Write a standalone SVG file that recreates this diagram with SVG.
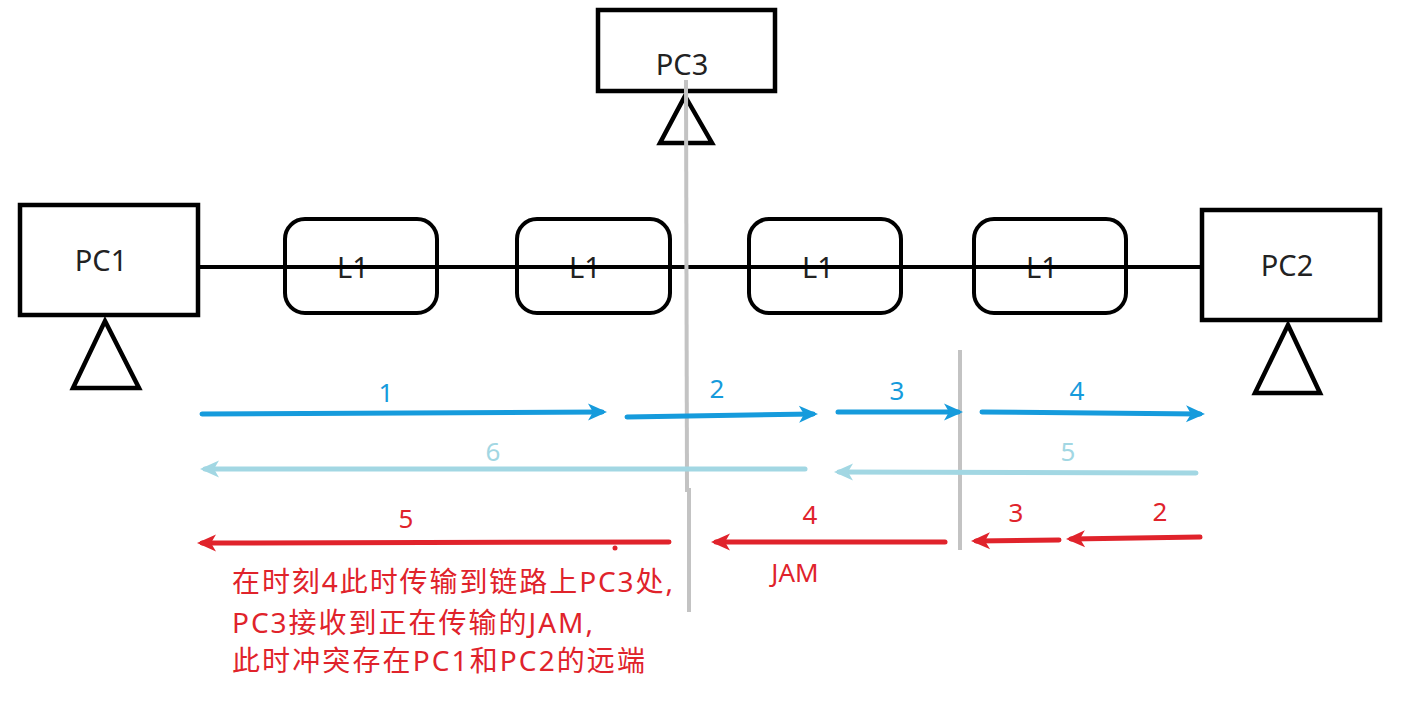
<svg xmlns="http://www.w3.org/2000/svg" width="1411" height="723" viewBox="0 0 1411 723">
<style>
.box{fill:#fff;stroke:#000;stroke-width:4.5}
.lbox{fill:#fff;stroke:#000;stroke-width:4}
.tri{fill:#fff;stroke:#000;stroke-width:4.5;stroke-linejoin:miter}
.name{font-family:"Noto Sans","DejaVu Sans",sans-serif;font-size:29px;fill:#222;text-anchor:middle}
.num{font-family:"Noto Sans","DejaVu Sans",sans-serif;font-size:26px;text-anchor:middle}
.blue{stroke:#169bdc;stroke-width:5;stroke-linecap:round;fill:none}
.lblue{stroke:#a2d7e3;stroke-width:5;stroke-linecap:round;fill:none}
.red{stroke:#e0232b;stroke-width:5;stroke-linecap:round;fill:none}
.grey{stroke:#c3c3c3;stroke-width:4;fill:none}
.cjk{font-family:"Noto Sans","Noto Sans CJK SC",sans-serif;font-size:28px;fill:#e0232b}
</style>
<defs>
<marker id="hb" viewBox="-20 -10 30 20" markerWidth="30" markerHeight="20" refX="0" refY="0" markerUnits="userSpaceOnUse" orient="auto"><path d="M5,0 L-14,-8.5 L-9,0 L-14,8.5 Z" fill="#169bdc"/></marker>
<marker id="hl" viewBox="-20 -10 30 20" markerWidth="30" markerHeight="20" refX="0" refY="0" markerUnits="userSpaceOnUse" orient="auto"><path d="M5,0 L-14,-8.5 L-9,0 L-14,8.5 Z" fill="#a2d7e3"/></marker>
<marker id="hr" viewBox="-20 -10 30 20" markerWidth="30" markerHeight="20" refX="0" refY="0" markerUnits="userSpaceOnUse" orient="auto"><path d="M5,0 L-14,-8.5 L-9,0 L-14,8.5 Z" fill="#e0232b"/></marker>
</defs>
<rect width="1411" height="723" fill="#fff"/>

<g id="PC3">
<rect class="box" x="598" y="10" width="177" height="81"/>
<text class="name" x="682" y="75">PC3</text>
<polygon class="tri" points="685,96 712,143 660,143"/>
</g>
<g id="PC1">
<rect class="box" x="20" y="205" width="178" height="110"/>
<text class="name" x="101" y="271">PC1</text>
<polygon class="tri" points="105,321 139,388 73,388"/>
</g>
<g id="PC2">
<rect class="box" x="1202" y="210" width="178" height="110"/>
<text class="name" x="1287" y="276">PC2</text>
<polygon class="tri" points="1288,325 1320,393 1255,393"/>
</g>
<g id="L1a">
<rect class="lbox" x="285" y="219" width="152" height="94" rx="20"/>
<text class="name" x="353" y="278">L1</text>
</g>
<g id="L1b">
<rect class="lbox" x="517" y="219" width="153" height="94" rx="20"/>
<text class="name" x="585" y="278">L1</text>
</g>
<g id="L1c">
<rect class="lbox" x="749" y="219" width="152" height="94" rx="20"/>
<text class="name" x="818" y="278">L1</text>
</g>
<g id="L1d">
<rect class="lbox" x="974" y="219" width="152" height="94" rx="20"/>
<text class="name" x="1042" y="278">L1</text>
</g>

<g id="connectors">
<line x1="198" y1="267" x2="1202" y2="267" stroke="#000" stroke-width="4"/>
<line class="grey" x1="686" y1="80" x2="687" y2="492"/>
<line class="grey" x1="689" y1="488" x2="689" y2="612"/>
<line class="grey" x1="960" y1="350" x2="960" y2="550"/>

<line class="blue" x1="202" y1="414" x2="602" y2="412" marker-end="url(#hb)"/>
<line class="blue" x1="627" y1="417" x2="813" y2="414" marker-end="url(#hb)"/>
<line class="blue" x1="838" y1="412" x2="958" y2="412" marker-end="url(#hb)"/>
<line class="blue" x1="982" y1="412" x2="1200" y2="414" marker-end="url(#hb)"/>

<line class="lblue" x1="805" y1="469" x2="205" y2="469" marker-end="url(#hl)"/>
<line class="lblue" x1="1196" y1="473" x2="839" y2="472" marker-end="url(#hl)"/>

<line class="red" x1="669" y1="542" x2="202" y2="543" marker-end="url(#hr)"/>
<line class="red" x1="945" y1="542" x2="716" y2="542" marker-end="url(#hr)"/>
<line class="red" x1="1059" y1="540" x2="976" y2="541" marker-end="url(#hr)"/>
<line class="red" x1="1200" y1="537" x2="1071" y2="539" marker-end="url(#hr)"/>
<circle cx="615" cy="548" r="2.5" fill="#e0232b"/>
</g>

<g id="labels">
<text class="num" x="386" y="402" fill="#169bdc">1</text>
<text class="num" x="717" y="398" fill="#169bdc">2</text>
<text class="num" x="897" y="400" fill="#169bdc">3</text>
<text class="num" x="1077" y="400" fill="#169bdc">4</text>
<text class="num" x="493" y="461" fill="#a2d7e3">6</text>
<text class="num" x="1068" y="461" fill="#a2d7e3">5</text>
<text class="num" x="406" y="528" fill="#e0232b">5</text>
<text class="num" x="810" y="524" fill="#e0232b">4</text>
<text class="num" x="1016" y="522" fill="#e0232b">3</text>
<text class="num" x="1160" y="521" fill="#e0232b">2</text>
<text class="num" x="795" y="582" fill="#e0232b">JAM</text>
</g>

<g id="note">
<text class="cjk" x="232" y="592" textLength="441" lengthAdjust="spacing">在时刻4此时传输到链路上PC3处,</text>
<text class="cjk" x="232" y="633" textLength="361" lengthAdjust="spacing">PC3接收到正在传输的JAM,</text>
<text class="cjk" x="232" y="671" textLength="413" lengthAdjust="spacing">此时冲突存在PC1和PC2的远端</text>
</g>
</svg>
